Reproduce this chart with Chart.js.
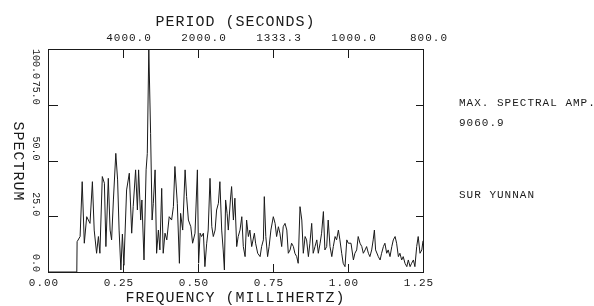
<!DOCTYPE html>
<html>
<head>
<meta charset="utf-8">
<script src="https://cdn.jsdelivr.net/npm/chart.js@4"></script>
<style>
  html, body { margin: 0; padding: 0; background: #fff; }
  #wrap { position: relative; width: 594px; height: 306px; }
</style>
</head>
<body>
<div id="wrap"><canvas id="spec"></canvas></div>
<script>
// Spectrum of SUR station (Yunnan), frequency in mHz, normalised amplitude
var freqMHz = [
  0.000, 0.096, 0.097, 0.107, 0.114, 0.121, 0.129, 0.140, 0.148, 0.154,
  0.162, 0.168, 0.173, 0.181, 0.188, 0.193, 0.201, 0.207, 0.212, 0.218,
  0.226, 0.232, 0.237, 0.243, 0.248, 0.253, 0.262, 0.271, 0.279, 0.284,
  0.292, 0.298, 0.302, 0.309, 0.313, 0.320, 0.327, 0.331, 0.336, 0.342,
  0.347, 0.351, 0.357, 0.362, 0.368, 0.373, 0.379, 0.384, 0.390, 0.396,
  0.404, 0.412, 0.418, 0.423, 0.431, 0.438, 0.442, 0.449, 0.457, 0.462,
  0.468, 0.476, 0.482, 0.490, 0.498, 0.502, 0.507, 0.512, 0.518, 0.523,
  0.529, 0.534, 0.540, 0.546, 0.551, 0.557, 0.562, 0.568, 0.573, 0.579,
  0.584, 0.588, 0.592, 0.597, 0.601, 0.608, 0.612, 0.618, 0.623, 0.629,
  0.634, 0.640, 0.646, 0.651, 0.657, 0.662, 0.668, 0.673, 0.679, 0.688,
  0.692, 0.699, 0.707, 0.712, 0.718, 0.721, 0.726, 0.732, 0.737, 0.743,
  0.751, 0.757, 0.762, 0.768, 0.773, 0.779, 0.784, 0.790, 0.796, 0.801,
  0.807, 0.812, 0.818, 0.823, 0.829, 0.834, 0.840, 0.846, 0.851, 0.857,
  0.862, 0.868, 0.873, 0.879, 0.884, 0.890, 0.896, 0.901, 0.907, 0.912,
  0.918, 0.923, 0.929, 0.934, 0.940, 0.946, 0.951, 0.957, 0.962, 0.968,
  0.973, 0.979, 0.984, 0.990, 0.996, 1.001, 1.010, 1.018, 1.023, 1.029,
  1.034, 1.040, 1.046, 1.051, 1.057, 1.062, 1.068, 1.073, 1.079, 1.084,
  1.088, 1.092, 1.101, 1.107, 1.112, 1.118, 1.123, 1.129, 1.134, 1.140,
  1.146, 1.151, 1.157, 1.162, 1.168, 1.173, 1.179, 1.184, 1.190, 1.196,
  1.201, 1.207, 1.212, 1.218, 1.223, 1.229, 1.234, 1.240, 1.246, 1.250
];
var spectrum = [
  0.0, 0.0, 13.6, 15.9, 40.5, 12.9, 24.8, 21.8, 40.5, 18.8,
  8.4, 15.9, 8.4, 42.8, 39.8, 11.4, 42.0, 18.8, 14.4, 32.3,
  53.2, 41.3, 18.8, 0.9, 17.0, 3.0, 36.8, 44.3, 17.4, 29.3,
  45.8, 27.8, 45.8, 23.3, 32.3, 5.4, 45.8, 53.2, 100.0, 62.2,
  23.3, 30.8, 45.8, 8.4, 18.8, 9.9, 37.5, 8.4, 17.4, 14.4,
  24.8, 23.3, 29.3, 47.3, 30.8, 3.9, 26.3, 18.8, 45.8, 33.8,
  23.3, 20.3, 12.9, 17.4, 45.8, 3.9, 17.4, 15.9, 17.4, 2.4,
  12.9, 18.8, 42.0, 20.3, 15.9, 18.8, 27.8, 30.8, 40.5, 18.8,
  9.9, 0.9, 32.3, 26.3, 18.8, 32.3, 38.3, 23.3, 33.1, 11.4,
  15.9, 18.8, 24.8, 11.4, 6.9, 23.3, 15.9, 18.8, 11.4, 17.4,
  12.9, 8.4, 6.9, 11.4, 14.4, 33.8, 15.9, 6.9, 11.4, 18.8,
  24.8, 21.8, 15.9, 20.3, 17.4, 11.4, 20.3, 21.8, 18.8, 8.4,
  9.9, 12.9, 11.4, 8.4, 6.9, 3.9, 29.3, 23.3, 8.4, 15.9,
  14.4, 6.9, 12.9, 21.8, 8.4, 11.4, 14.4, 8.4, 12.9, 17.4,
  27.1, 9.9, 11.4, 23.3, 11.4, 6.9, 11.4, 15.9, 14.4, 18.8,
  14.4, 8.4, 3.9, 2.4, 14.4, 12.9, 12.9, 5.4, 8.4, 9.9,
  15.9, 12.9, 11.4, 8.4, 9.9, 11.4, 8.4, 6.9, 9.9, 14.4,
  18.8, 9.9, 6.9, 5.4, 8.4, 11.4, 12.9, 8.4, 9.9, 6.9,
  11.4, 14.4, 15.9, 12.9, 6.9, 8.4, 5.4, 6.9, 3.9, 2.4,
  5.4, 2.4, 3.9, 5.4, 2.4, 11.4, 15.9, 8.4, 9.9, 14.0
];

var freqTicks = [0, 0.25, 0.5, 0.75, 1.0, 1.25];
var freqTickLabels = ['0.00', '0.25', '0.50', '0.75', '1.00', '1.25'];
var periodTickLabels = ['', '4000.0', '2000.0', '1333.3', '1000.0', '800.0'];
var spectrumTicks = [0, 25, 50, 75, 100];
var spectrumTickLabels = ['0.0', '25.0', '50.0', '75.0', '100.0'];

var sideNotes = ['MAX. SPECTRAL AMP.', '9060.9', 'SUR YUNNAN'];

var INK = '#1a1a1a';
var MONO = '"Liberation Mono", "DejaVu Sans Mono", monospace';

function useTicks(values) {
  return function (scale) {
    scale.ticks = values.map(function (v) { return { value: v }; });
  };
}

// plotter-style decorations: inward ticks, rotated y labels, side notes
var plotterDecor = {
  id: 'plotterDecor',
  beforeDraw: function (chart) {
    chart.ctx.letterSpacing = '1px';
  },
  afterDraw: function (chart) {
    var ctx = chart.ctx;
    var a = chart.chartArea;
    var sx = chart.scales.x, sx2 = chart.scales.x2;
    var sy = chart.scales.y;
    ctx.save();
    ctx.strokeStyle = INK;
    ctx.lineWidth = 1;
    ctx.beginPath();
    freqTicks.forEach(function (v, i) {
      if (i === 0 || i === freqTicks.length - 1) return;
      var px = Math.round(sx.getPixelForValue(v)) + 0.5;
      ctx.moveTo(px, a.bottom); ctx.lineTo(px, a.bottom - 8);
      var px2 = Math.round(sx2.getPixelForValue(v)) + 0.5;
      ctx.moveTo(px2, a.top); ctx.lineTo(px2, a.top + 9);
    });
    spectrumTicks.forEach(function (v, i) {
      if (i === 0 || i === spectrumTicks.length - 1) return;
      var py = Math.round(sy.getPixelForValue(v)) + 0.5;
      ctx.moveTo(a.left, py); ctx.lineTo(a.left + 10, py);
      ctx.moveTo(a.right, py); ctx.lineTo(a.right - 7, py);
    });
    ctx.stroke();

    // y tick labels, rotated clockwise, ending at their tick
    ctx.fillStyle = INK;
    ctx.letterSpacing = '0px';
    ctx.font = '10px ' + MONO;
    ctx.textBaseline = 'middle';
    spectrumTicks.forEach(function (v, i) {
      var py = sy.getPixelForValue(v);
      ctx.save();
      ctx.translate(36, py);
      ctx.rotate(Math.PI / 2);
      ctx.textAlign = (i === spectrumTicks.length - 1) ? 'left' : 'right';
      ctx.fillText(spectrumTickLabels[i], 0, 0);
      ctx.restore();
    });

    // y title
    ctx.letterSpacing = '1px';
    ctx.font = '15px ' + MONO;
    ctx.save();
    ctx.translate(18, (a.top + a.bottom) / 2 + 1);
    ctx.rotate(Math.PI / 2);
    ctx.textAlign = 'center';
    ctx.fillText('SPECTRUM', 0, 0);
    ctx.restore();

    // notes on the right
    ctx.font = '11px ' + MONO;
    ctx.textAlign = 'left';
    ctx.fillText(sideNotes[0], a.right + 36, 103);
    ctx.fillText(sideNotes[1], a.right + 36, 123);
    ctx.fillText(sideNotes[2], a.right + 36, 195);
    ctx.restore();
  }
};

var tickFont = { family: MONO, size: 11 };
var titleFont = { family: MONO, size: 15, lineHeight: 1 };

new Chart(document.getElementById('spec'), {
  type: 'line',
  data: {
    labels: freqMHz,
    datasets: [{
      data: freqMHz.map(function (f, i) { return { x: f, y: spectrum[i] }; }),
      borderColor: INK,
      borderWidth: 1,
      pointRadius: 0,
      tension: 0,
      fill: false
    }]
  },
  options: {
    responsive: true,
    maintainAspectRatio: false,
    animation: false,
    events: [],
    layout: { padding: 0 },
    plugins: { legend: { display: false }, tooltip: { enabled: false } },
    scales: {
      x: {
        type: 'linear', position: 'bottom', min: 0, max: 1.25,
        afterBuildTicks: useTicks(freqTicks),
        afterFit: function (s) { s.height = 34; },
        grid: { drawOnChartArea: false, drawTicks: false },
        border: { display: true, color: INK, width: 1 },
        ticks: {
          color: INK, font: tickFont, padding: 4, labelOffset: -4, maxRotation: 0,
          callback: function (v, i) { return freqTickLabels[i]; }
        },
        title: { display: true, text: 'FREQUENCY (MILLIHERTZ)', color: INK, font: titleFont, padding: 0 }
      },
      x2: {
        type: 'linear', position: 'top', min: 0, max: 1.25,
        afterBuildTicks: useTicks(freqTicks),
        afterFit: function (s) { s.height = 49; },
        grid: { drawOnChartArea: false, drawTicks: false },
        border: { display: true, color: INK, width: 1 },
        ticks: {
          color: INK, font: tickFont, padding: 4, labelOffset: 6, maxRotation: 0,
          callback: function (v, i) { return periodTickLabels[i]; }
        },
        title: { display: true, text: 'PERIOD (SECONDS)', color: INK, font: titleFont, padding: { top: 15, bottom: 0 } }
      },
      y: {
        type: 'linear', position: 'left', min: 0, max: 100,
        afterBuildTicks: useTicks(spectrumTicks),
        afterFit: function (s) { s.width = 48; },
        grid: { drawOnChartArea: false, drawTicks: false },
        border: { display: true, color: INK, width: 1 },
        ticks: { display: false }
      },
      y2: {
        type: 'linear', position: 'right', min: 0, max: 100,
        afterBuildTicks: useTicks(spectrumTicks),
        afterFit: function (s) { s.width = 171; },
        grid: { drawOnChartArea: false, drawTicks: false },
        border: { display: true, color: INK, width: 1 },
        ticks: { display: false }
      }
    }
  },
  plugins: [plotterDecor]
});
</script>
</body>
</html>
